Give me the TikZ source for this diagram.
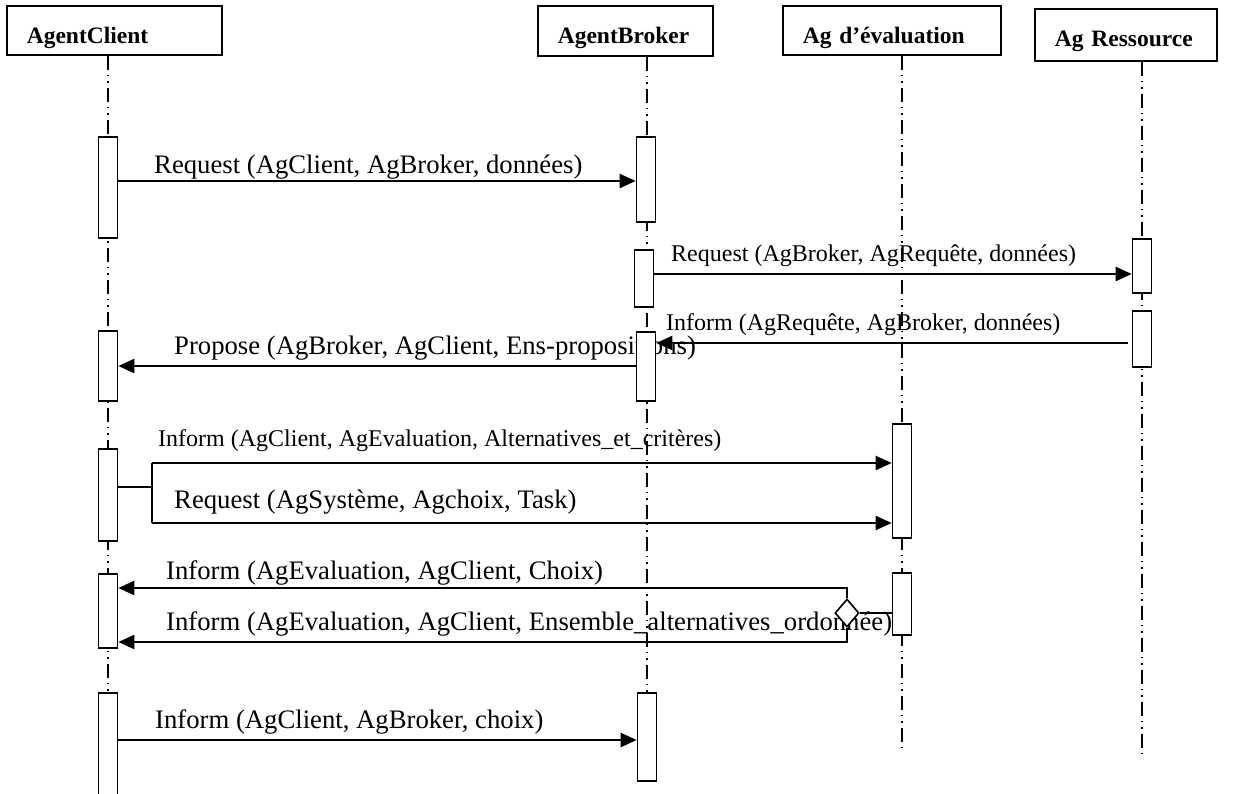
\documentclass[tikz,border=0pt]{standalone}
\usepackage{fontspec}
\setmainfont{Liberation Serif}
\usetikzlibrary{arrows.meta,shapes.geometric}
\begin{document}
\begin{tikzpicture}[x=1pt,y=-1pt,
  head/.style={draw,line width=1.6pt,font=\fontsize{23.5}{28}\selectfont\bfseries,
    anchor=north west,align=left,inner ysep=0pt,inner xsep=20pt},
  life/.style={line width=1.3pt,dash pattern=on 14pt off 5pt on 1.5pt off 5pt on 1.5pt off 5pt},
  act/.style={draw,line width=1.6pt,fill=white,minimum width=19pt,anchor=north,inner sep=0pt},
  msg/.style={line width=2.2pt,-{Triangle[length=16pt,width=14pt]}},
  wire/.style={line width=2.2pt},
  big/.style={font=\fontsize{26.7}{32}\selectfont,anchor=base west,inner sep=0pt},
  small/.style={font=\fontsize{24}{29}\selectfont,anchor=base west,inner sep=0pt},
  choice/.style={draw,line width=1.6pt,fill=white,diamond,inner sep=0pt,
    minimum width=24pt,minimum height=28pt},
]
\useasboundingbox (0,0) rectangle (1252,793);

% lifeline headers
\node[head,text width=175pt,text height=38pt,text depth=11pt] (hc) at (6,5) {AgentClient};
\node[head,text width=135pt,text height=38pt,text depth=12pt] (hb) at (537,5) {AgentBroker};
\node[head,text width=178pt,text height=38pt,text depth=11pt] (he) at (782,5) {Ag d’évaluation};
\node[head,text width=142pt,text height=38pt,text depth=14pt] (hr) at (1034,8) {Ag Ressource};

% lifelines
\coordinate (endC) at (108,793);
\coordinate (endB) at (647,700);
\coordinate (endE) at (902,750);
\coordinate (endR) at (1142,755);
\draw[life] (hc.south -| endC) -- (endC);
\draw[life] (hb.south -| endB) -- (endB);
\draw[life] (he.south -| endE) -- (endE);
\draw[life] (hr.south -| endR) -- (endR);

% message labels
\node[big]   (t1) at (154,173) {Request (AgClient, AgBroker, données)};
\node[small] (t2) at (671,261) {Request (AgBroker, AgRequête, données)};
\node[small] (t3) at (666,330) {Inform (AgRequête, AgBroker, données)};
\node[big]   (t4) at (174,354) {Propose (AgBroker, AgClient, Ens-propositions)};
\node[small] (t5) at (158,446) {Inform (AgClient, AgEvaluation, Alternatives\_et\_critères)};
\node[big]   (t6) at (174,508) {Request (AgSystème, Agchoix, Task)};
\node[big]   (t7) at (166,579) {Inform (AgEvaluation, AgClient, Choix)};
\node[big]   (t8) at (166,630) {Inform (AgEvaluation, AgClient, Ensemble\_alternatives\_ordonnée)};
\node[big]   (t9) at (155,728) {Inform (AgClient, AgBroker, choix)};

% activation boxes
\node[act,minimum height=101pt] (c1) at (108,136) {};
\node[act,minimum height=70pt]  (c2) at (108,330) {};
\node[act,minimum height=92pt]  (c3) at (108,448) {};
\node[act,minimum height=74pt]  (c4) at (108,573) {};
\node[act,minimum height=110pt] (c5) at (108,692) {};
\node[act,minimum height=85pt]  (b1) at (646,136) {};
\node[act,minimum height=57pt]  (b2) at (644,249) {};
\node[act,minimum height=69pt]  (b3) at (646,331) {};
\node[act,minimum height=88pt]  (b4) at (647,692) {};
\node[act,minimum height=114pt] (e1) at (902,423) {};
\node[act,minimum height=62pt]  (e2) at (902,572) {};
\node[act,minimum height=54pt]  (r1) at (1142,238) {};
\node[act,minimum height=56pt]  (r2) at (1142,310) {};

% message rows
\coordinate (y1) at (0,181);
\coordinate (y2) at (0,274);
\coordinate (y3) at (0,343);
\coordinate (y4) at (0,366);
\coordinate (y5) at (0,463);
\coordinate (y6) at (0,523);
\coordinate (y7) at (0,588);
\coordinate (y8) at (0,642);
\coordinate (y9) at (0,740);

\draw[msg] (c1.east |- y1) -- (b1.west |- y1);
\draw[msg] (b2.east |- y2) -- (r1.west |- y2);
\draw[msg] ([xshift=-4pt]r2.west |- y3) -- (b3.east |- y3);
\draw[msg] (b3.west |- y4) -- (c2.east |- y4);

% fork towards the evaluation agent
\coordinate (fk) at (152,487);
\draw[wire] (c3.east |- fk) -- (fk);
\draw[wire] (fk |- y5) -- (fk |- y6);
\draw[msg] (fk |- y5) -- (e1.west |- y5);
\draw[msg] (fk |- y6) -- (e1.west |- y6);

% choice between the two replies
\node[choice] (dm) at (847,613) {};
\draw[wire] (e2.west |- dm) -- (dm.east);
\draw[msg] (dm.north) -- (dm.north |- y7) -- (c4.east |- y7);
\draw[msg] (dm.south) -- (dm.south |- y8) -- (c4.east |- y8);

\draw[msg] (c5.east |- y9) -- (b4.west |- y9);
\end{tikzpicture}
\end{document}
